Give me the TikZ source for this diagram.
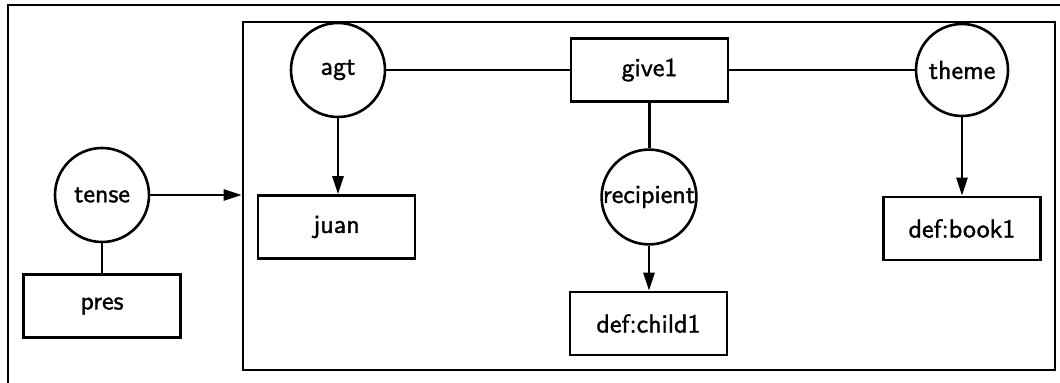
\documentclass[tikz,border=0pt]{standalone}
\usepackage{fontspec}
\usetikzlibrary{arrows.meta}
\newfontfamily\labelfont{lmsans10-regular.otf}[FakeBold=1.3]
\begin{document}
\begin{tikzpicture}[x=0.5pt,y=-0.5pt,
  every node/.style={font=\labelfont\fontsize{13}{15}\selectfont, inner sep=0pt},
  concept/.style={draw, line width=1.3pt, minimum width=78.5pt, minimum height=31.5pt},
  relation/.style={draw, circle, line width=1.3pt, minimum size=47pt},
  link/.style={line width=1.3pt},
  arc/.style={link, -{Stealth[length=9pt, width=5.5pt, inset=0pt]}}]
  \useasboundingbox (0,0) rectangle (1060,383);

  % open outer frame (runs off the right and bottom)
  \draw[line width=1.3pt] (8,383) -- (8,5) -- (1060,5);

  % context box holding the proposition
  \node[draw, line width=1.3pt, minimum width=406pt, minimum height=174pt] (ctx) at (649,196) {};

  % tense of the context
  \node[relation] (tense) at (102,195) {tense};
  \node[concept] (pres) at (102,306) {pres};

  % inside the context
  \node[relation] (agt) at (338,70) {agt};
  \node[concept] (juan) at (336.5,227) {juan};
  \node[concept] (give) at (649.5,70) {give1};
  \node[relation] (recip) at (649,197) {recipient};
  \node[concept] (child) at (648.5,323.5) {def:child1};
  \node[relation, minimum size=46pt] (theme) at (962,70) {theme};
  \node[concept] (book) at (962,228.5) {def:book1};

  % connectors
  \draw[link] (tense) -- (pres);
  \draw[arc] (tense.east) -- (tense.east -| ctx.west);
  \draw[link] (agt) -- (give);
  \draw[link] (give) -- (theme);
  \draw[arc] (agt) -- (agt |- juan.north);
  \draw[link] (give) -- (give |- recip.north);
  \draw[arc] (recip) -- (recip |- child.north);
  \draw[arc] (theme) -- (theme |- book.north);
\end{tikzpicture}
\end{document}
